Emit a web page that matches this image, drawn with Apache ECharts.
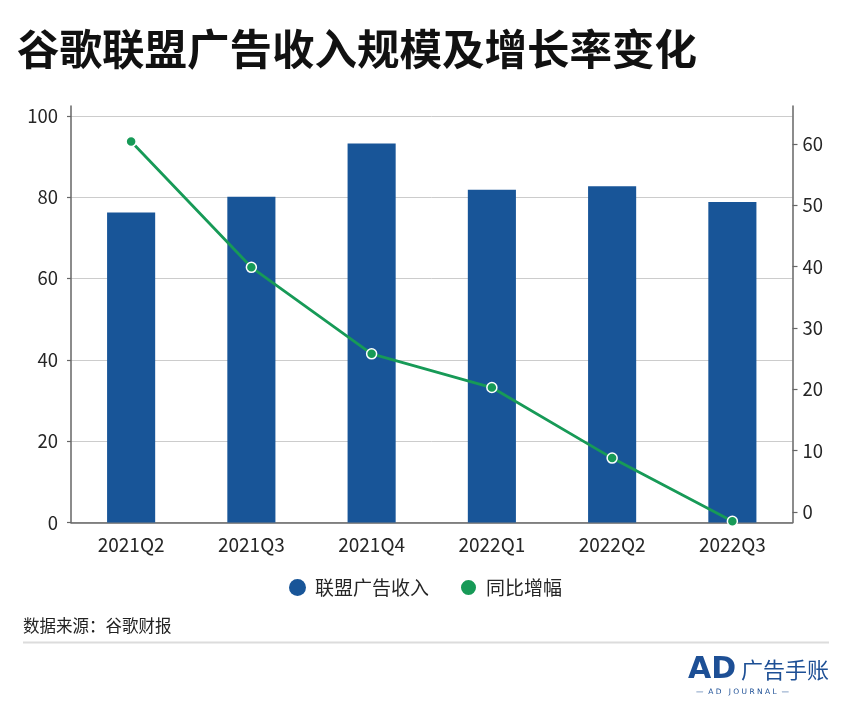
<!DOCTYPE html>
<html>
<head>
<meta charset="utf-8">
<script src="https://cdn.jsdelivr.net/npm/echarts@6/dist/echarts.min.js"></script>
<style>
html,body{margin:0;padding:0;background:#fff;}
#c{width:852px;height:722px;}
</style>
</head>
<body>
<div id="c"></div>
<script>
const categories = ['2021Q2','2021Q3','2021Q4','2022Q1','2022Q2','2022Q3'];
const revenue = [76.2, 80.1, 93.2, 81.8, 82.7, 78.8];
const growth = [60.4, 39.9, 25.8, 20.3, 8.8, -1.5];
const leftTicks = [0, 20, 40, 60, 80, 100];
const rightTicks = [0, 10, 20, 30, 40, 50, 60];
const seriesNames = ['联盟广告收入', '同比增幅'];
const titleText = '谷歌联盟广告收入规模及增长率变化';
const sourceText = '数据来源：谷歌财报';

const FONT = '"Noto Sans CJK SC","Noto Sans",sans-serif';
const BLUE = '#185598';
const GREEN = '#179a57';
const TXT = '#262626';
const chart = echarts.init(document.getElementById('c'), null, {renderer: 'canvas'});
chart.setOption({
  backgroundColor: '#fff',
  animation: false,
  textStyle: {fontFamily: FONT},
  grid: {left: 71, right: 59.5, top: 106, bottom: 199.5, containLabel: false},
  legend: {
    data: seriesNames,
    left: 284, top: 573,
    icon: 'circle', itemWidth: 25, itemHeight: 17, itemGap: 30,
    textStyle: {fontSize: 19, color: TXT, fontFamily: FONT}
  },
  xAxis: {
    type: 'category', data: categories,
    axisLine: {lineStyle: {color: '#666', width: 1.5}},
    axisTick: {alignWithLabel: true, length: 5, lineStyle: {color: '#666', width: 1.2}},
    axisLabel: {fontSize: 19, color: TXT, margin: 13, fontFamily: FONT}
  },
  yAxis: [{
    type: 'value', min: 0, max: 102.4,
    axisLine: {show: true, lineStyle: {color: '#666', width: 1.5}},
    axisTick: {show: true, length: 4, customValues: leftTicks, lineStyle: {color: '#666', width: 1.2}},
    axisLabel: {fontSize: 18.5, color: TXT, margin: 13, customValues: leftTicks, fontFamily: FONT},
    splitLine: {show: true, lineStyle: {color: '#cccccc', width: 1}}
  }, {
    type: 'value', min: -1.7, max: 66.2, position: 'right',
    axisLine: {show: true, lineStyle: {color: '#666', width: 1.5}},
    axisTick: {show: true, length: 5, customValues: rightTicks, lineStyle: {color: '#666', width: 1.2}},
    axisLabel: {fontSize: 18.5, color: TXT, margin: 10, customValues: rightTicks, fontFamily: FONT},
    splitLine: {show: false}
  }],
  series: [{
    name: seriesNames[0], type: 'bar', data: revenue, yAxisIndex: 0,
    barWidth: '40%', itemStyle: {color: BLUE}
  }, {
    name: seriesNames[1], type: 'line', data: growth, yAxisIndex: 1,
    symbol: 'circle', symbolSize: 10,
    lineStyle: {color: GREEN, width: 2.8},
    itemStyle: {color: GREEN, borderColor: '#fff', borderWidth: 1.5},
    z: 5
  }],
  graphic: [
    {type: 'text', left: 17, top: 28, style: {text: titleText, font: 'bold 42.5px ' + FONT, fill: '#111'}},
    {type: 'text', left: 23, top: 617, style: {text: sourceText, font: '16.5px ' + FONT, fill: '#222'}},
    {type: 'line', shape: {x1: 23, y1: 642.5, x2: 829, y2: 642.5}, style: {stroke: '#dcdcdc', lineWidth: 2}},
    {type: 'text', left: 688, top: 655, style: {text: 'AD', font: 'bold 30px "DejaVu Sans",sans-serif', fill: '#1d4f95'}},
    {type: 'text', left: 741, top: 659, style: {text: '广告手账', font: '22px ' + FONT, fill: '#1d4f95'}},
    {type: 'text', left: 696, top: 688, style: {text: '—  A D   J O U R N A L  —', font: '7.5px "DejaVu Sans",sans-serif', fill: '#1d4f95'}}
  ]
});
</script>
</body>
</html>
